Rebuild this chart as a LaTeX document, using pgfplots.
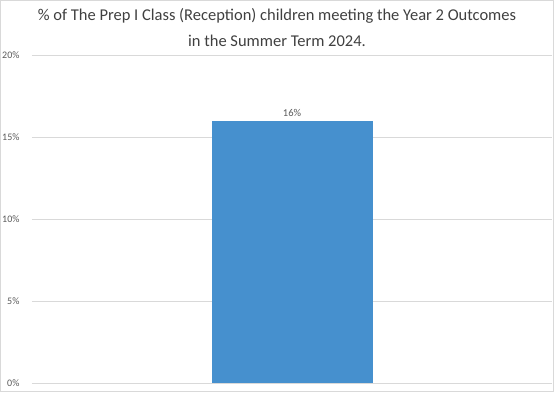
\documentclass[border=0pt]{standalone}
\usepackage{pgfplots}
\pgfplotsset{compat=1.18}
\usepackage{fontspec}
\setmainfont{Carlito}
\definecolor{barblue}{RGB}{70,144,206}
\definecolor{gridgray}{RGB}{217,217,217}
\definecolor{textgray}{RGB}{89,89,89}
\definecolor{titlegray}{RGB}{64,64,64}
\begin{document}
\begin{tikzpicture}[x=1pt,y=1pt]
\useasboundingbox (0,0) rectangle (554,392);
\draw[draw=gridgray,line width=1pt] (0.5,0.5) rectangle (553.5,391.5);
\begin{axis}[
  at={(32pt,9pt)}, anchor=south west,
  scale only axis, width=520pt, height=328pt,
  xmin=-1, xmax=1, ymin=0, ymax=20,
  ytick={0,5,10,15,20},
  yticklabel={\pgfmathprintnumber{\tick}\%},
  /pgf/number format/assume math mode=true,
  yticklabel style={font=\fontsize{10}{11}\selectfont, text=textgray, anchor=east, xshift=-9pt},
  xtick=\empty,
  ymajorgrids, grid style={draw=gridgray, line width=0.8pt},
  axis line style={draw=none},
  major tick length=0pt,
  clip=false,
]
\addplot[ybar, bar width=161pt, fill=barblue, draw=none,
  nodes near coords={\pgfmathprintnumber{\pgfplotspointmeta}\%},
  every node near coord/.append style={font=\fontsize{10.5}{11}\selectfont, text=textgray, /pgf/number format/assume math mode=true}]
  coordinates {(0,16)};
\end{axis}
\node[align=center, font=\fontsize{16.5}{26}\selectfont, text=titlegray] at (277,364)
  {\% of The Prep I Class (Reception) children meeting the Year 2 Outcomes\\in the Summer Term 2024.};
\end{tikzpicture}
\end{document}
